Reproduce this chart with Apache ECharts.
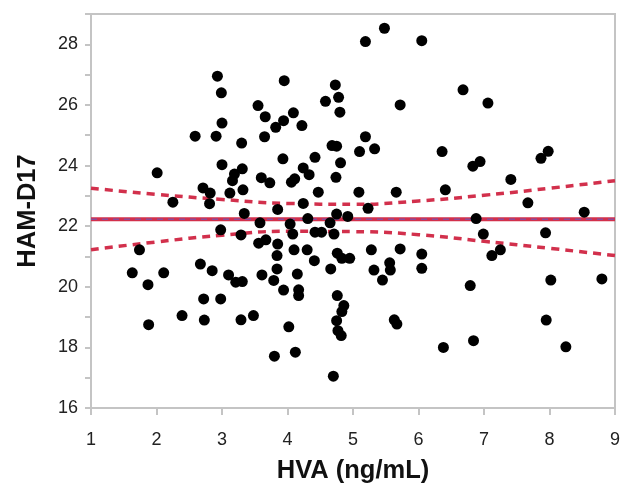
<!DOCTYPE html>
<html>
<head>
<meta charset="utf-8">
<script src="https://cdn.jsdelivr.net/npm/echarts@6/dist/echarts.min.js"></script>
<style>
  html, body { margin: 0; padding: 0; background: #fff; }
  #main { width: 623px; height: 489px; }
</style>
</head>
<body>
<div id="main"></div>
<script>
// HVA (ng/mL) per subject
var hva = [
  2.01, 2.25, 2.93, 2.99, 3.00, 2.59, 2.91, 3.30, 3.00, 2.71, 2.82, 2.81, 3.12, 3.19, 3.31, 3.16,
  3.32, 3.34, 3.55, 3.66, 3.65, 3.60, 3.73, 3.82, 3.93, 3.85, 3.95, 4.09, 3.94, 4.22, 4.24, 4.33,
  4.42, 4.11, 4.06, 4.47, 4.24, 4.58, 4.73, 4.78, 4.80, 4.68, 4.75, 4.81, 4.74, 5.09, 5.19, 5.48,
  6.05, 5.72, 5.19, 5.10, 5.33, 5.66, 6.36, 6.41, 6.68, 5.23, 4.75, 4.92, 4.31, 7.06, 7.98, 7.87,
  6.94, 6.83, 7.41, 7.67, 8.53, 6.88, 3.58, 2.98, 3.29, 3.56, 3.67, 3.85, 1.74, 1.63, 1.87, 2.11,
  1.88, 2.39, 2.67, 2.85, 2.72, 2.98, 2.73, 3.10, 3.21, 3.31, 3.29, 3.48, 3.61, 3.79, 3.80, 4.04,
  4.08, 4.65, 4.42, 4.52, 4.71, 3.84, 4.10, 4.30, 4.41, 4.76, 4.83, 4.95, 4.66, 3.84, 4.15, 3.94,
  4.17, 4.17, 4.76, 4.86, 4.83, 4.75, 4.77, 4.82, 4.02, 4.12, 4.70, 5.28, 5.32, 5.45, 5.56, 5.57,
  5.72, 6.05, 6.05, 5.63, 5.67, 6.38, 6.99, 7.94, 7.12, 7.25, 6.79, 8.02, 8.80, 7.95, 6.84, 8.25
];
// HAM-D17 score per subject
var hamd = [
  23.76, 22.79, 26.95, 26.40, 25.40, 24.97, 24.97, 24.74, 24.03, 23.26, 23.09, 22.74, 23.09, 23.72, 23.89, 23.50,
  23.20, 22.42, 25.98, 25.61, 24.95, 23.60, 23.43, 25.26, 24.22, 22.55, 26.80, 25.74, 25.48, 25.32, 23.92, 23.70,
  24.27, 23.56, 23.45, 23.12, 22.75, 26.12, 26.66, 26.25, 25.76, 24.66, 24.64, 24.09, 23.61, 23.12, 28.09, 28.53,
  28.12, 26.00, 24.95, 24.46, 24.55, 23.12, 24.46, 23.20, 26.50, 22.59, 22.40, 22.32, 22.25, 26.06, 24.47, 24.24,
  24.13, 23.98, 23.54, 22.77, 22.46, 22.25, 22.11, 21.88, 21.71, 21.44, 21.55, 21.41, 21.22, 20.46, 20.07, 20.46,
  18.75, 19.05, 20.75, 20.53, 19.60, 19.60, 18.90, 20.39, 20.15, 20.17, 18.91, 19.05, 20.39, 20.21, 17.71, 22.07,
  21.74, 22.11, 21.80, 21.80, 21.74, 21.03, 21.22, 21.22, 20.86, 21.11, 20.94, 20.94, 20.59, 20.59, 20.42, 19.89,
  19.90, 19.71, 19.71, 19.38, 19.18, 18.88, 18.55, 18.39, 18.68, 17.84, 17.05, 21.22, 20.55, 20.22, 20.79, 20.55,
  21.25, 21.08, 20.61, 18.91, 18.77, 18.00, 21.74, 21.78, 21.03, 21.22, 20.04, 20.22, 20.26, 18.90, 18.22, 18.02
];

// fit line and confidence band, read at each integer HVA
var bandX = [1, 2, 3, 4, 5, 6, 7, 8, 9];
var fitY = [22.23, 22.23, 22.23, 22.23, 22.23, 22.23, 22.23, 22.23, 22.23];
var upperY = [23.25, 23.05, 22.88, 22.75, 22.72, 22.83, 23.02, 23.25, 23.50];
var lowerY = [21.22, 21.48, 21.70, 21.83, 21.82, 21.72, 21.50, 21.27, 21.03];

var xTicks = [1, 2, 3, 4, 5, 6, 7, 8, 9];
var yTicks = [16, 18, 20, 22, 24, 26, 28];

function pairs(xs, ys) {
  return xs.map(function (x, i) { return [x, ys[i]]; });
}

var red = '#d2304c';
var chart = echarts.init(document.getElementById('main'));
var option = {
  animation: false,
  grid: {
    left: 91, right: 4, top: 14, bottom: 80,
    show: true, borderColor: '#c4c4c4', borderWidth: 2
  },
  xAxis: {
    type: 'value', min: 1, max: 9, interval: 1,
    name: 'HVA (ng/mL)', nameLocation: 'middle', nameGap: 50,
    nameTextStyle: { fontFamily: 'Liberation Sans', fontWeight: 'bold', fontSize: 25.5, color: '#111' },
    axisLine: { show: true, lineStyle: { color: '#c4c4c4', width: 2 } },
    axisTick: { show: true, length: 7, lineStyle: { color: '#c4c4c4', width: 2 } },
    axisLabel: {
      margin: 23, fontFamily: 'Liberation Sans', fontSize: 18, color: '#222',
      formatter: function (v) { return xTicks.indexOf(v) >= 0 ? String(v) : ''; }
    },
    splitLine: { show: false }
  },
  yAxis: {
    type: 'value', min: 16, max: 29, interval: 1,
    name: 'HAM-D17', nameLocation: 'middle', nameGap: 50,
    nameTextStyle: { fontFamily: 'Liberation Sans', fontWeight: 'bold', fontSize: 25.5, color: '#111' },
    axisLine: { show: true, lineStyle: { color: '#c4c4c4', width: 2 } },
    axisTick: { show: true, length: 6, lineStyle: { color: '#c4c4c4', width: 2 } },
    axisLabel: {
      margin: 13, fontFamily: 'Liberation Sans', fontSize: 18, color: '#222',
      formatter: function (v) { return yTicks.indexOf(v) >= 0 ? String(v) : ''; }
    },
    splitLine: { show: false }
  },
  series: [
    {
      type: 'line', data: pairs(bandX, upperY), smooth: true, symbol: 'none', z: 3,
      lineStyle: { color: red, width: 3.5, type: [8, 6] }
    },
    {
      type: 'line', data: pairs(bandX, lowerY), smooth: true, symbol: 'none', z: 3,
      lineStyle: { color: red, width: 3.5, type: [8, 6] }
    },
    {
      type: 'line', data: pairs(bandX, fitY), symbol: 'none', z: 3,
      lineStyle: { color: red, width: 4 }
    },
    {
      type: 'line', data: pairs(bandX, fitY), symbol: 'none', z: 4,
      lineStyle: { color: '#6a5bc0', width: 1, type: [6, 5] }
    },
    {
      type: 'scatter', data: pairs(hva, hamd), symbolSize: 11, z: 5,
      itemStyle: { color: '#000', opacity: 1 }
    }
  ]
};
chart.setOption(option);
</script>
</body>
</html>
